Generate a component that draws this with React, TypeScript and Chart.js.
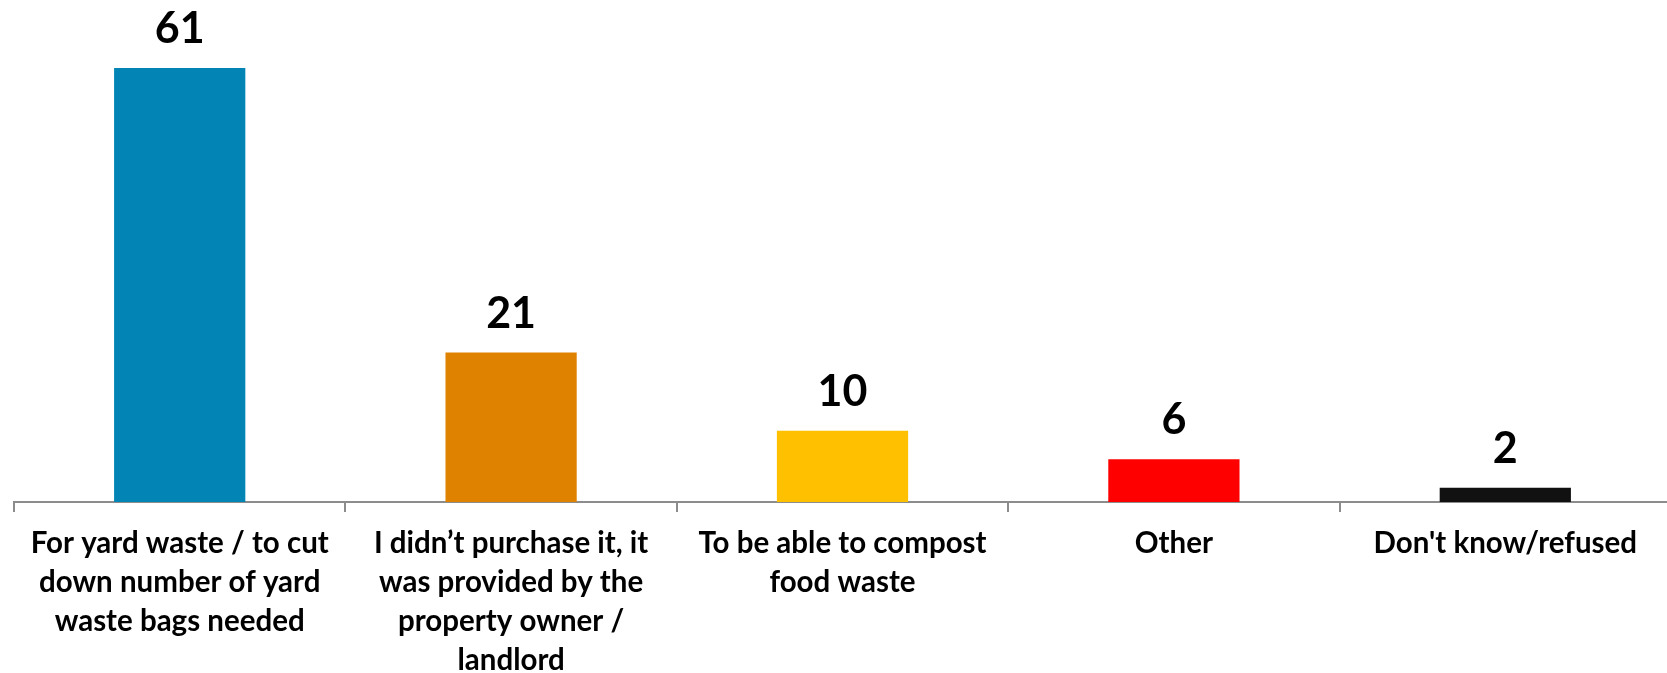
import React, { useEffect, useRef } from "react";
import { Chart, registerables } from "chart.js";

Chart.register(...registerables);

const categories: string[][] = [
  ["For yard waste / to cut", "down number of yard", "waste bags needed"],
  ["I didn\u2019t purchase it, it", "was provided by the", "property owner /", "landlord"],
  ["To be able to compost", "food waste"],
  ["Other"],
  ["Don't know/refused"],
];
const values: number[] = [61, 21, 10, 6, 2];
const barColors: string[] = ["#0285B5", "#DF8200", "#FFC000", "#FF0000", "#111111"];

const FONT = "Lato, 'Open Sans', sans-serif";

const valueLabels = {
  id: "valueLabels",
  afterDatasetsDraw(chart: any) {
    const ctx = chart.ctx;
    const meta = chart.getDatasetMeta(0);
    ctx.save();
    ctx.font = `bold 43px ${FONT}`;
    ctx.fillStyle = "#000000";
    ctx.textAlign = "center";
    ctx.textBaseline = "alphabetic";
    meta.data.forEach((bar: any, i: number) => {
      ctx.fillText(String(values[i]), bar.x, bar.y - 25);
    });
    ctx.restore();
  },
};

export default function App() {
  const ref = useRef<HTMLCanvasElement>(null);
  useEffect(() => {
    if (!ref.current) return;
    const chart = new Chart(ref.current, {
      type: "bar",
      data: {
        labels: categories,
        datasets: [
          {
            data: values,
            backgroundColor: barColors,
            borderWidth: 0,
            categoryPercentage: 1,
            barPercentage: 0.396,
          },
        ],
      },
      options: {
        animation: false,
        responsive: false,
        maintainAspectRatio: false,
        devicePixelRatio: 1,
        layout: { padding: { left: 14, right: 0, top: 4, bottom: 0 } },
        plugins: {
          legend: { display: false },
          tooltip: { enabled: false },
        },
        scales: {
          x: {
            afterFit: (scale: any) => {
              scale.height = 171;
            },
            border: { display: true, color: "#8C8C8C", width: 2 },
            grid: {
              display: true,
              drawOnChartArea: false,
              drawTicks: true,
              tickLength: 10,
              color: "#8C8C8C",
              lineWidth: 2,
            },
            ticks: {
              color: "#000000",
              padding: 12,
              maxRotation: 0,
              autoSkip: false,
              font: { family: FONT, size: 29.5, weight: "bold", lineHeight: "39px" },
            },
          },
          y: {
            display: false,
            min: 0,
            max: 70,
          },
        },
      },
      plugins: [valueLabels],
    });
    return () => chart.destroy();
  }, []);
  return (
    <div style={{ position: "fixed", left: 0, top: 0, width: 1667, height: 673, background: "#fff", overflow: "hidden" }}>
      <canvas ref={ref} width={1671} height={673} style={{ display: "block" }} />
    </div>
  );
}
